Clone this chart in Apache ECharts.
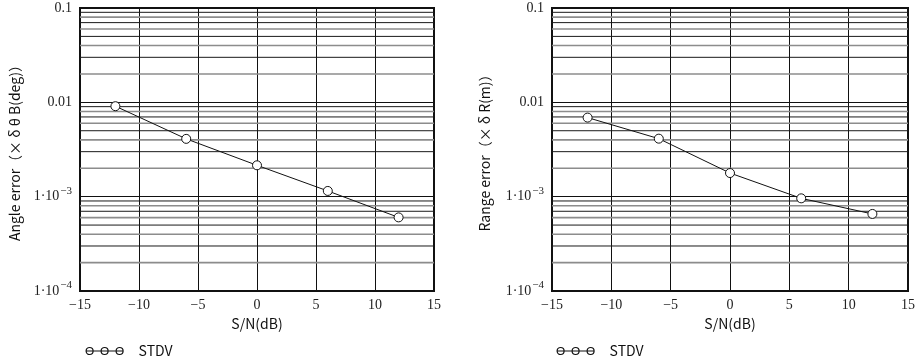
<!DOCTYPE html>
<html><head><meta charset="utf-8">
<script src="https://cdn.jsdelivr.net/npm/echarts@6/dist/echarts.min.js"></script>
<style>html,body{margin:0;padding:0;background:#fff}#c{width:920px;height:360px}</style>
</head><body><div id="c"></div>
<script>
var snr = [-12, -6, 0, 6, 12];
var angleErr = [0.0091, 0.0041, 0.00215, 0.00115, 0.000603];
var rangeErr = [0.00689, 0.00412, 0.00178, 0.00096, 0.000656];
var xTicks = [-15, -10, -5, 0, 5, 10, 15];
var yTicks = [0.0001, 0.001, 0.01, 0.1];
var minorMantissa = [2, 3, 4, 5, 6, 7, 8, 9];
var decades = [0.0001, 0.001, 0.01];
var leftYTitle = 'Angle error（× δ θ B(deg)）';
var rightYTitle = 'Range error（× δ R(m)）';
var xTitle = 'S/N(dB)';
var seriesName = 'STDV';

var chart = echarts.init(document.getElementById('c'), null, {renderer: 'canvas'});

var grayStyle = {color: '#8c8c8c', width: 1.6};
var darkStyle = {color: '#1a1a1a', width: 1};

function minorSeries(gi) {
  var out = [];
  decades.forEach(function (d) {
    minorMantissa.forEach(function (m, i) {
      var v = m * d;
      out.push({
        type: 'line', name: 'minor', xAxisIndex: gi, yAxisIndex: gi, silent: true,
        data: [[xTicks[0], v], [xTicks[xTicks.length - 1], v]],
        symbol: 'none', lineStyle: (i % 2 === 0) ? grayStyle : darkStyle, z: 1
      });
    });
  });
  return out;
}

function yFmt(v) {
  var e = Math.round(Math.log10(v));
  if (e >= -2) return e === -1 ? '0.1' : '0.01';
  return '1·10{sup|−' + (-e) + '}';
}
function xFmt(v) { return String(v).replace('-', '−'); }

function makeX(gi) {
  return {
    type: 'value', gridIndex: gi, min: xTicks[0], max: xTicks[xTicks.length - 1], interval: 5,
    name: xTitle, nameLocation: 'middle', nameGap: 26,
    nameTextStyle: {fontFamily: 'Noto Sans CJK JP', fontSize: 14, color: '#111'},
    axisLine: {show: false, onZero: false},
    axisTick: {show: false},
    axisLabel: {formatter: xFmt, fontFamily: 'Liberation Serif', fontSize: 14, color: '#222', margin: 7},
    splitLine: {show: true, lineStyle: {color: '#111', width: 1}}
  };
}
function makeY(gi, title, gap) {
  return {
    type: 'log', logBase: 10, gridIndex: gi, min: yTicks[0], max: yTicks[yTicks.length - 1],
    name: title, nameLocation: 'middle', nameGap: gap, nameRotate: 90,
    nameTextStyle: {fontFamily: 'Noto Sans CJK JP', fontSize: 14, color: '#111'},
    axisLine: {show: false, onZero: false},
    axisTick: {show: false},
    axisLabel: {
      formatter: yFmt, fontFamily: 'Liberation Serif', fontSize: 14, color: '#222', margin: 8,
      rich: {sup: {fontFamily: 'Liberation Serif', fontSize: 11, color: '#222', padding: [0, 0, 12, 1]}}
    },
    splitLine: {show: true, lineStyle: {color: '#111', width: 1}}
  };
}
function makeSeries(gi, data) {
  return {
    type: 'line', name: seriesName, xAxisIndex: gi, yAxisIndex: gi,
    data: snr.map(function (x, i) { return [x, data[i]]; }),
    symbol: 'circle', symbolSize: 9,
    itemStyle: {color: '#fff', borderColor: '#111', borderWidth: 1},
    lineStyle: {color: '#111', width: 1},
    z: 5
  };
}
var iconPath = 'path://M0,4 L38,4 M0.5,4 A3.5,3.5 0 1,1 7.5,4 A3.5,3.5 0 1,1 0.5,4 M15.5,4 A3.5,3.5 0 1,1 22.5,4 A3.5,3.5 0 1,1 15.5,4 M30.5,4 A3.5,3.5 0 1,1 37.5,4 A3.5,3.5 0 1,1 30.5,4';
function makeLegend(left) {
  return {
    left: left, top: 339, data: [seriesName], icon: iconPath, itemWidth: 38, itemHeight: 8, itemGap: 10,
    itemStyle: {color: 'transparent', borderColor: '#111', borderWidth: 1.2},
    textStyle: {fontFamily: 'Noto Sans CJK JP', fontSize: 14, color: '#111', padding: [0, 0, 0, 10]},
    selectedMode: false
  };
}

chart.setOption({
  animation: false,
  grid: [
    {left: 80, top: 8, width: 354, height: 283, show: true, borderColor: '#111', borderWidth: 2},
    {left: 552, top: 8, width: 356, height: 283, show: true, borderColor: '#111', borderWidth: 2}
  ],
  legend: [makeLegend(80), makeLegend(551)],
  xAxis: [makeX(0), makeX(1)],
  yAxis: [makeY(0, leftYTitle, 58), makeY(1, rightYTitle, 60)],
  series: minorSeries(0).concat(minorSeries(1), [makeSeries(0, angleErr), makeSeries(1, rangeErr)])
});
</script></body></html>
